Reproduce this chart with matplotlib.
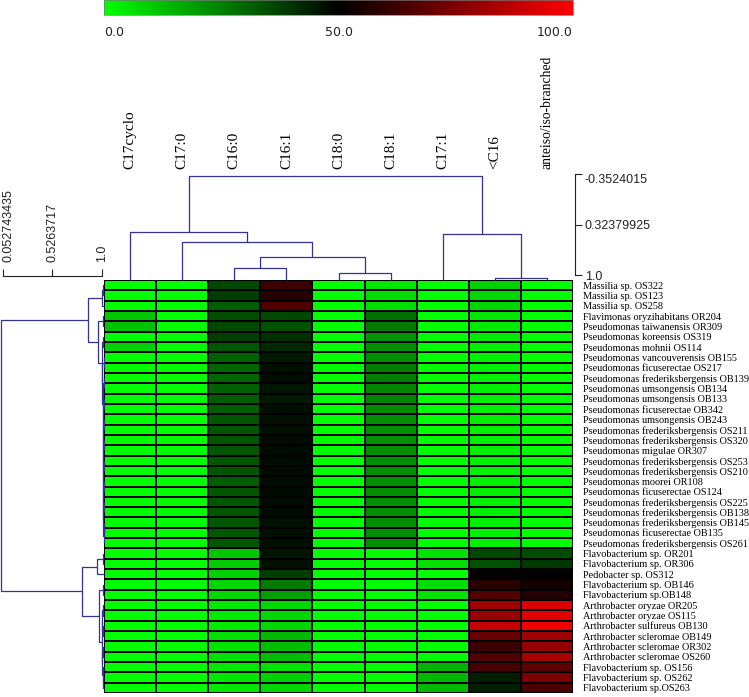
import numpy as np
import matplotlib
matplotlib.use("Agg")
import matplotlib.pyplot as plt
from matplotlib.colors import LinearSegmentedColormap
from matplotlib.cm import ScalarMappable
from matplotlib.colors import Normalize

# ---------------- data ----------------
columns = ["C17cyclo", "C17:0", "C16:0", "C16:1", "C18:0", "C18:1", "C17:1",
           "<C16", "anteiso/iso-branched"]

strains = [
    "Massilia sp. OS322", "Massilia sp. OS123", "Massilia sp. OS258",
    "Flavimonas oryzihabitans OR204", "Pseudomonas taiwanensis OR309",
    "Pseudomonas koreensis OS319", "Pseudomonas mohnii OS114",
    "Pseudomonas vancouverensis OB155", "Pseudomonas ficuserectae OS217",
    "Pseudomonas frederiksbergensis OB139", "Pseudomonas umsongensis OB134",
    "Pseudomonas umsongensis OB133", "Pseudomonas ficuserectae OB342",
    "Pseudomonas umsongensis OB243", "Pseudomonas frederiksbergensis OS211",
    "Pseudomonas frederiksbergensis OS320", "Pseudomonas migulae OR307",
    "Pseudomonas frederiksbergensis OS253", "Pseudomonas frederiksbergensis OS210",
    "Pseudomonas moorei OR108", "Pseudomonas ficuserectae OS124",
    "Pseudomonas frederiksbergensis OS225", "Pseudomonas frederiksbergensis OB138",
    "Pseudomonas frederiksbergensis OB145", "Pseudomonas ficuserectae OB135",
    "Pseudomonas frederiksbergensis OS261", "Flavobacterium sp. OR201",
    "Flavobacterium sp. OR306", "Pedobacter sp. OS312", "Flavobacterium sp. OB146",
    "Flavobacterium sp.OB148", "Arthrobacter oryzae OR205", "Arthrobacter oryzae OS115",
    "Arthrobacter sulfureus OB130", "Arthrobacter scleromae OB149",
    "Arthrobacter scleromae OR302", "Arthrobacter scleromae OS260",
    "Flavobacterium sp. OS156", "Flavobacterium sp. OS262", "Flavobacterium sp.OS263",
]

c17cyclo = [0, 0, 0, 11, 12, 0, 9, 0, 0, 0, 0, 0, 0, 0, 0, 0, 0, 0, 0, 0,
            0, 0, 0, 0, 0, 0, 0, 0, 0, 0, 0, 0, 0, 0, 0, 0, 0, 0, 0, 0]
c17_0 = [0] * 40
c16_0 = [36, 38, 32, 35, 36, 38, 33, 31, 30, 30, 31, 32, 32, 33, 33, 33, 33, 33, 33, 32,
         33, 33, 33, 33, 33, 33, 11, 10, 9, 8, 8, 4, 4, 4, 6, 6, 6, 5, 5, 5]
c16_1 = [62, 58, 66, 36, 34, 41, 42, 45, 47, 48, 46, 45, 47, 47, 47, 48, 48, 48, 48, 48,
         48, 48, 48, 47, 47, 47, 46, 47, 38, 26, 19, 8, 8, 8, 14, 13, 13, 6, 9, 8]
c18_0 = [0] * 40
c18_1 = [5, 7, 7, 28, 26, 21, 22, 22, 25, 25, 24, 24, 23, 22, 22, 22, 22, 22, 22, 22,
         22, 22, 22, 22, 22, 22, 0, 0, 0, 0, 0, 0, 0, 0, 0, 0, 0, 0, 0, 0]
c17_1 = [0, 0, 0, 0, 0, 0, 0, 0, 0, 0, 0, 0, 0, 0, 0, 0, 0, 0, 0, 0,
         0, 0, 0, 0, 0, 0, 6, 6, 0, 7, 6, 0, 0, 0, 0, 0, 0, 15, 14, 14]
c_lt16 = [9, 8, 8, 5, 4, 4, 3, 3, 3, 3, 3, 3, 3, 3, 3, 3, 3, 3, 3, 3,
          3, 3, 3, 3, 3, 3, 36, 34, 51, 58, 66, 81, 80, 89, 70, 62, 66, 64, 44, 44]
c_branched = [0, 0, 0, 0, 0, 0, 0, 0, 0, 0, 0, 0, 0, 0, 0, 0, 0, 0, 0, 0,
              0, 0, 0, 0, 0, 0, 35, 39, 50, 54, 57, 93, 94, 97, 81, 79, 83, 68, 74, 65]

# dendrograms as nested (similarity, left, right); leaves are row / column indices
col_tree = (-0.3524015,
            (0.372, 0, (0.502, 1, (0.697, (0.84, 2, 3), (0.905, 4, 5)))),
            (0.406, 6, (0.978, 7, 8)))

massilia = (0.979, (0.992, 0, 1), 2)
pseudo = (0.979, (0.990, 5, 6),
          (0.985, (0.996, 7, 8),
           (0.988, (0.996, 9, 10),
            (0.990, (0.996, 11, 12),
             (0.991, (0.996, 13, 14),
              (0.992, (0.996, 15, 16),
               (0.993, (0.996, 17, 18),
                (0.994, (0.996, 19, 20),
                 (0.995, (0.997, 21, 22),
                  (0.996, (0.998, 23, 24), 25))))))))))
group_top = (0.853, massilia, (0.948, (0.991, 3, 4), pseudo))
group_e = (0.939, (0.990, 26, 27), 28)
group_h = (0.980, (0.985, (0.990, 31, 32), (0.990, 33, 34)),
           (0.985, (0.990, 35, 36), (0.990, 37, (0.995, 38, 39))))
group_bottom = (0.798, group_e, (0.957, (0.990, 29, 30), group_h))
row_tree = (0.0527, group_top, group_bottom)

row_scale_ticks = [0.052743435, 0.5263717, 1.0]
row_scale_labels = ["0.052743435", "0.5263717", "1.0"]
col_scale_ticks = [-0.3524015, 0.32379925, 1.0]
col_scale_labels = ["-0.3524015", "0.32379925", "1.0"]

# ---------------- helpers ----------------
def segments(tree):
    segs = []

    def walk(node):
        if isinstance(node, int):
            return node + 0.5, 1.0
        h, a, b = node
        pa, ha = walk(a)
        pb, hb = walk(b)
        segs.append(([pa, pa, pb, pb], [ha, h, h, hb]))
        return (pa + pb) / 2.0, h

    walk(tree)
    return segs


W, H = 749, 697
fig = plt.figure(figsize=(W / 100, H / 100), dpi=100)


def rect(x0, y0, x1, y1):
    return [x0 / W, 1 - y1 / H, (x1 - x0) / W, (y1 - y0) / H]


serif = ["Liberation Serif", "DejaVu Serif"]
sans = ["Liberation Sans", "DejaVu Sans"]
line_col = "#343490"

cmap = LinearSegmentedColormap.from_list("gbr", [(0, 1, 0), (0, 0, 0), (1, 0, 0)])
norm = Normalize(0, 100)

data = np.column_stack([c17cyclo, c17_0, c16_0, c16_1, c18_0, c18_1, c17_1,
                        c_lt16, c_branched]).astype(float)
nrow, ncol = data.shape

# heatmap
ax = fig.add_axes(rect(104, 280, 573, 693))
ax.pcolormesh(data, cmap=cmap, norm=norm, edgecolors="black", linewidth=1.3)
ax.set_xlim(0, ncol)
ax.set_ylim(nrow, 0)
ax.set_xticks([])
ax.yaxis.tick_right()
ax.set_yticks(np.arange(nrow) + 0.5)
ax.set_yticklabels(strains, fontsize=7.4, family=serif)
ax.tick_params(axis="y", length=0, pad=7)
for s in ax.spines.values():
    s.set_visible(False)

# row dendrogram
axr = fig.add_axes(rect(0, 280, 104, 693))
for xs, ys in segments(row_tree):
    axr.plot(ys, xs, color=line_col, lw=0.9, clip_on=False, solid_capstyle="butt")
axr.set_ylim(nrow, 0)
axr.set_xlim(0.046, 1.0)
axr.axis("off")

# column dendrogram
axc = fig.add_axes(rect(104, 176, 573, 280))
for xs, ys in segments(col_tree):
    axc.plot(xs, ys, color=line_col, lw=0.9, clip_on=False, solid_capstyle="butt")
axc.set_xlim(0, ncol)
axc.set_ylim(1.0, -0.3524015)
axc.xaxis.set_ticks_position("top")
axc.set_xticks(np.arange(ncol) + 0.5)
axc.set_xticklabels(columns, rotation=90, fontsize=11, family=serif)
axc.get_xticklabels()[-1].set_fontsize(9.8)
axc.tick_params(axis="x", length=0, pad=5)
axc.set_yticks([])
for s in axc.spines.values():
    s.set_visible(False)

# column scale (right)
axs = fig.add_axes(rect(575, 174, 575, 275))
axs.set_ylim(1.0, -0.3524015)
axs.set_xticks([])
for k in ["left", "top", "bottom"]:
    axs.spines[k].set_visible(False)
axs.spines["right"].set_color("#222222")
axs.spines["right"].set_linewidth(0.8)
axs.yaxis.tick_right()
axs.set_yticks(col_scale_ticks)
axs.set_yticklabels(col_scale_labels, fontsize=9, family=sans)
axs.tick_params(axis="y", direction="out", length=5, width=0.8, pad=2, colors="#222222")
axs.get_yticklabels()[0].set_va("top")

# row scale (left)
axl = fig.add_axes(rect(3, 276, 102, 276))
axl.set_xlim(0.052743435, 1.0)
axl.set_yticks([])
for k in ["left", "top", "right"]:
    axl.spines[k].set_visible(False)
axl.spines["bottom"].set_color("#222222")
axl.spines["bottom"].set_linewidth(0.8)
axl.set_xticks(row_scale_ticks)
axl.set_xticklabels(row_scale_labels, fontsize=9, family=sans)
axl.tick_params(axis="x", direction="in", length=5, width=0.8, bottom=True, top=False,
                labelbottom=False, labeltop=True, labelrotation=90, pad=10,
                colors="#222222")
axl.get_xticklabels()[0].set_ha("left")

# colour bar
cax = fig.add_axes(rect(104, 0, 573, 15))
cb = fig.colorbar(ScalarMappable(norm=norm, cmap=cmap), cax=cax, orientation="horizontal")
cb.set_ticks([0, 50, 100])
cb.set_ticklabels(["0.0", "50.0", "100.0"])
cb.ax.tick_params(length=0, pad=8, labelsize=9)
for lbl, ha in zip(cb.ax.get_xticklabels(), ["left", "center", "right"]):
    lbl.set_ha(ha)
    lbl.set_color("#222222")
cb.outline.set_linewidth(0.5)
cb.outline.set_edgecolor("#777777")

fig.savefig("out.png", dpi=100)
